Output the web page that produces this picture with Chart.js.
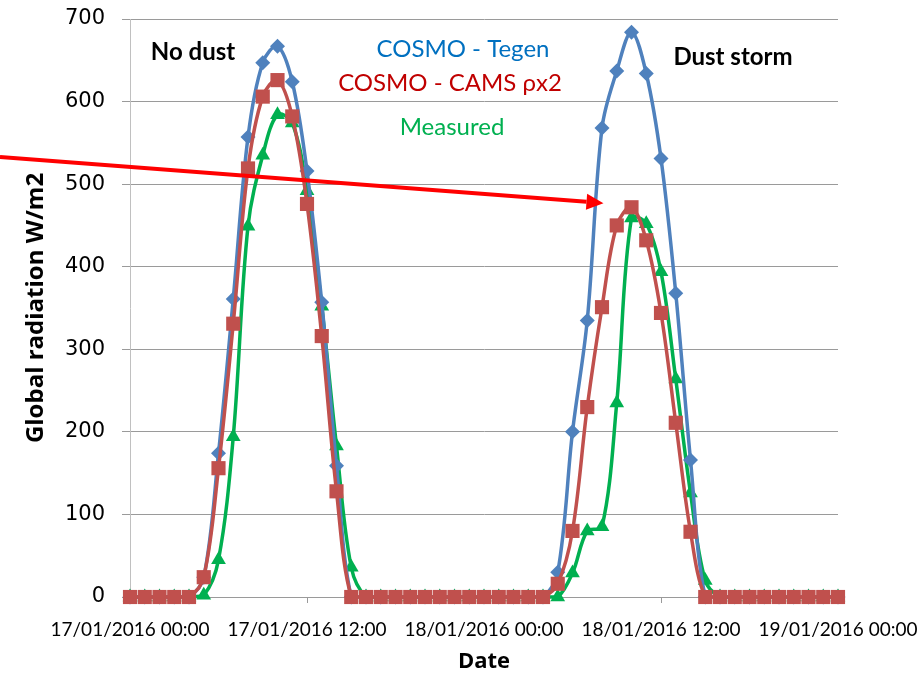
<!DOCTYPE html>
<html>
<head>
<meta charset="utf-8">
<script src="https://cdn.jsdelivr.net/npm/chart.js@4.4.0/dist/chart.umd.min.js"></script>
<style>
  html, body { margin: 0; padding: 0; background: #fff; }
</style>
</head>
<body>
<canvas id="grafico" width="921" height="678"></canvas>
<script>
// hourly categories, 17/01/2016 00:00 .. 19/01/2016 00:00
const hours = [];
for (let h = 0; h <= 48; h++) {
  const day = 17 + Math.floor(h / 24);
  const hh = String(h % 24).padStart(2, '0');
  hours.push(day + '/01/2016 ' + hh + ':00');
}
const tickEvery = 12;

const tegen = [
  0, 0, 0, 0, 0, 24, 174, 361, 557, 647, 667, 624, 516, 357, 159, 0,
  0, 0, 0, 0, 0, 0, 0, 0, 0, 0, 0, 0, 0, 30, 200, 335, 568, 637, 684, 634,
  531, 368, 166, 0, 0, 0, 0, 0, 0, 0, 0, 0, 0
];
const cams = [
  0, 0, 0, 0, 0, 24, 156, 331, 519, 606, 626, 582, 476, 316, 128, 0,
  0, 0, 0, 0, 0, 0, 0, 0, 0, 0, 0, 0, 0, 16, 80, 230, 351, 450, 472, 432,
  344, 211, 79, 0, 0, 0, 0, 0, 0, 0, 0, 0, 0
];
const measured = [
  0, 0, 0, 0, 0, 2, 45, 194, 449, 535, 584, 574, 492, 352, 183, 36,
  0, 0, 0, 0, 0, 0, 0, 0, 0, 0, 0, 0, 0, 0, 29, 80, 85, 235, 459, 452,
  394, 264, 126, 20, 0, 0, 0, 0, 0, 0, 0, 0, 0
];

// arrow: from left page edge to the tip (hour index, W/m2)
const arrowStartValue = 533;
const arrowTip = { hour: 32.1, value: 477 };

const notas = [
  { text: 'No dust', x: 193, y: 52, color: '#000', font: 'bold 24px Lato' },
  { text: 'Dust storm', x: 733, y: 57, color: '#000', font: 'bold 24px Lato' },
  { text: 'COSMO - Tegen', x: 463, y: 49, color: '#0070C0', font: '24px Lato' },
  { text: 'COSMO - CAMS \u03C1x2', x: 450, y: 83, color: '#C00000', font: '24px Lato' },
  { text: 'Measured', x: 452, y: 127, color: '#00B050', font: '24px Lato' }
];

const anotaciones = {
  id: 'anotaciones',
  afterDraw(chart) {
    const ctx = chart.ctx;
    const xs = chart.scales.x, ys = chart.scales.y;
    ctx.save();
    // textos
    ctx.textAlign = 'center';
    ctx.textBaseline = 'middle';
    notas.forEach(n => {
      ctx.font = n.font;
      ctx.fillStyle = n.color;
      ctx.fillText(n.text, n.x, n.y);
    });
    // flecha roja
    const x0 = 0, y0 = ys.getPixelForValue(arrowStartValue);
    const x1 = xs.getPixelForValue(arrowTip.hour), y1 = ys.getPixelForValue(arrowTip.value);
    const ang = Math.atan2(y1 - y0, x1 - x0);
    const len = 17, half = 8;
    const bx = x1 - len * Math.cos(ang), by = y1 - len * Math.sin(ang);
    ctx.strokeStyle = '#FF0000';
    ctx.fillStyle = '#FF0000';
    ctx.lineWidth = 4;
    ctx.beginPath();
    ctx.moveTo(x0, y0);
    ctx.lineTo(bx, by);
    ctx.stroke();
    ctx.beginPath();
    ctx.moveTo(x1, y1);
    ctx.lineTo(bx + half * Math.sin(ang), by - half * Math.cos(ang));
    ctx.lineTo(bx - half * Math.sin(ang), by + half * Math.cos(ang));
    ctx.closePath();
    ctx.fill();
    ctx.restore();
  }
};

const comun = { borderWidth: 3.5, pointBorderWidth: 0, tension: 0.35, clip: false };

new Chart(document.getElementById('grafico'), {
  type: 'line',
  data: {
    labels: hours,
    datasets: [
      Object.assign({
        label: 'COSMO - CAMS \u03C1x2',
        data: cams,
        borderColor: '#C0504D',
        backgroundColor: '#C0504D',
        pointStyle: 'rect',
        pointRadius: 10,
        pointHoverRadius: 10
      }, comun),
      Object.assign({
        label: 'COSMO - Tegen',
        data: tegen,
        borderColor: '#4F81BD',
        backgroundColor: '#4F81BD',
        pointStyle: 'rectRot',
        pointRadius: 7.5,
        pointHoverRadius: 7.5
      }, comun),
      Object.assign({
        label: 'Measured',
        data: measured,
        borderColor: '#00B050',
        backgroundColor: '#00B050',
        pointStyle: 'triangle',
        pointRadius: 8.5,
        pointHoverRadius: 8.5
      }, comun)
    ]
  },
  options: {
    responsive: false,
    animation: false,
    layout: { padding: { top: 19, right: 83, bottom: 0, left: 0 } },
    plugins: { legend: { display: false }, tooltip: { enabled: false } },
    scales: {
      x: {
        type: 'category',
        offset: false,
        grid: {
          drawOnChartArea: false,
          tickLength: 6,
          color: ctx => (ctx.index % tickEvery === 0 ? '#9a9a9a' : 'rgba(0,0,0,0)')
        },
        border: { color: '#9a9a9a', width: 1 },
        ticks: {
          autoSkip: false,
          maxRotation: 0,
          minRotation: 0,
          padding: 17,
          color: '#000',
          font: { family: 'Lato', size: 19, lineHeight: 1 },
          callback(val, index) {
            return index % tickEvery === 0 ? this.getLabelForValue(val) : '';
          }
        },
        title: {
          display: true,
          text: 'Date',
          color: '#000',
          font: { family: 'Open Sans', size: 22, weight: 'bold' },
          padding: { top: 0, bottom: 3 }
        },
        afterFit(s) {
          s.height = 81;
          s.paddingLeft = 0;
          s.paddingRight = 0;
        }
      },
      y: {
        min: 0,
        max: 700,
        ticks: {
          stepSize: 100,
          padding: 17,
          color: '#000',
          font: { family: 'DejaVu Sans', size: 21 }
        },
        grid: { color: '#9a9a9a', lineWidth: 1, tickLength: 8 },
        border: { color: '#c0c0c0', width: 1 },
        title: {
          display: true,
          text: 'Global radiation W/m2',
          color: '#000',
          font: { family: 'Open Sans', size: 24, weight: 'bold' },
          padding: { top: 22, bottom: 0 }
        },
        afterFit(s) {
          s.width = 130;
          // label padding must not push the plot area down
          s.paddingTop = 12;
          s.paddingBottom = 12;
        }
      }
    }
  },
  plugins: [anotaciones]
});
</script>
</body>
</html>
